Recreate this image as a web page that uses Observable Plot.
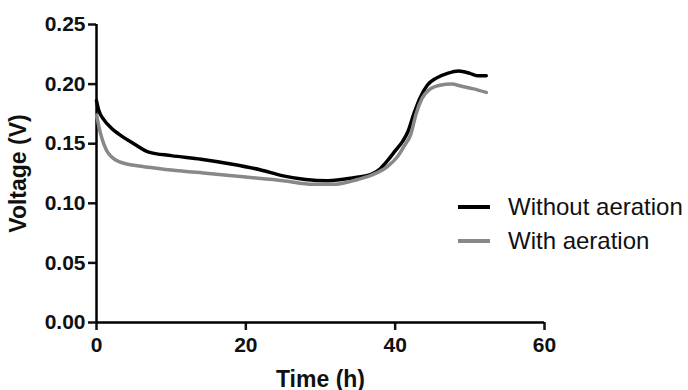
<!DOCTYPE html>
<html>
<head>
<meta charset="utf-8">
<script src="https://cdn.jsdelivr.net/npm/d3@7"></script>
<script src="https://cdn.jsdelivr.net/npm/@observablehq/plot@0.6"></script>
<style>
  html, body { margin: 0; padding: 0; background: #fff; }
  #wrap { position: relative; width: 688px; height: 390px; font-family: "Liberation Sans", Arial, sans-serif; }
  #legend { position: absolute; left: 458px; top: 190px; font-size: 24px; color: #111; line-height: 34px; }
  #legend .row { display: flex; align-items: center; white-space: nowrap; }
  #legend .sw { display: inline-block; width: 32px; height: 4px; margin-right: 18px; }
  svg g[aria-label="x-axis label"] text, svg g[aria-label="y-axis label"] text { font-size: 23px; }
</style>
</head>
<body>
<div id="wrap"><div id="legend"></div></div>
<script>
const seriesNames = ["Without aeration", "With aeration"];
const seriesColors = ["#000000", "#888888"];

const timeWithout = [0, 0.3, 1, 2, 3, 5, 7, 10, 14, 18, 22, 25, 28, 31, 34, 37, 38, 39, 40, 41, 41.7, 42.5, 43.3, 44.3, 45.5, 47, 48.5, 50, 51, 52.2];
const voltWithout = [0.186, 0.178, 0.170, 0.163, 0.158, 0.150, 0.143, 0.140, 0.137, 0.133, 0.128, 0.123, 0.120, 0.119, 0.121, 0.125, 0.129, 0.136, 0.144, 0.152, 0.160, 0.175, 0.188, 0.199, 0.205, 0.209, 0.211, 0.209, 0.207, 0.207];

const timeWith = [0, 0.3, 0.7, 1.3, 2, 3, 6, 10, 15, 20, 25, 29, 32, 35, 37, 39, 40.3, 41.2, 42.1, 42.8, 43.6, 44.5, 46, 47.5, 49, 50.5, 52.2];
const voltWith = [0.174, 0.165, 0.155, 0.145, 0.139, 0.135, 0.131, 0.128, 0.125, 0.122, 0.119, 0.116, 0.116, 0.120, 0.124, 0.131, 0.139, 0.148, 0.158, 0.175, 0.188, 0.195, 0.199, 0.200, 0.198, 0.196, 0.193];

const xTicks = [0, 20, 40, 60];
const yTicks = [0, 0.05, 0.10, 0.15, 0.20, 0.25];

const data = [
  ...timeWithout.map((t, i) => ({t, v: voltWithout[i], s: seriesNames[0]})),
  ...timeWith.map((t, i) => ({t, v: voltWith[i], s: seriesNames[1]}))
];

const font = '"Liberation Sans", Arial, sans-serif';

const chart = Plot.plot({
  width: 688,
  height: 390,
  marginLeft: 96,
  marginRight: 144,
  marginTop: 24,
  marginBottom: 68,
  style: { fontFamily: font, fontSize: "21px", fontWeight: "bold", color: "#111", background: "#fff" },
  x: { domain: [0, 60] },
  y: { domain: [0, 0.25] },
  color: { domain: seriesNames, range: seriesColors },
  marks: [
    Plot.axisX({ ticks: xTicks, tickSize: 8, tickPadding: 7, strokeWidth: 2.5, label: "Time (h)", labelAnchor: "center", labelArrow: "none", labelOffset: 64, fontWeight: "bold" }),
    Plot.axisY({ ticks: yTicks, tickSize: 8, tickPadding: 3, strokeWidth: 2.5, tickFormat: d3.format(".2f"), label: "Voltage (V)", labelAnchor: "center", labelArrow: "none", labelOffset: 87, fontWeight: "bold" }),
    Plot.ruleX([0], { stroke: "#000", strokeWidth: 2.5 }),
    Plot.ruleY([0], { stroke: "#000", strokeWidth: 2.5 }),
    Plot.line(data, { x: "t", y: "v", z: "s", stroke: "s", strokeWidth: 3.5, curve: "monotone-x" })
  ]
});
const wrap = document.getElementById("wrap");
wrap.insertBefore(chart, wrap.firstChild);

const legend = document.getElementById("legend");
seriesNames.forEach((n, i) => {
  const row = document.createElement("div");
  row.className = "row";
  const sw = document.createElement("span");
  sw.className = "sw";
  sw.style.background = seriesColors[i];
  row.appendChild(sw);
  row.appendChild(document.createTextNode(n));
  legend.appendChild(row);
});
</script>
</body>
</html>
